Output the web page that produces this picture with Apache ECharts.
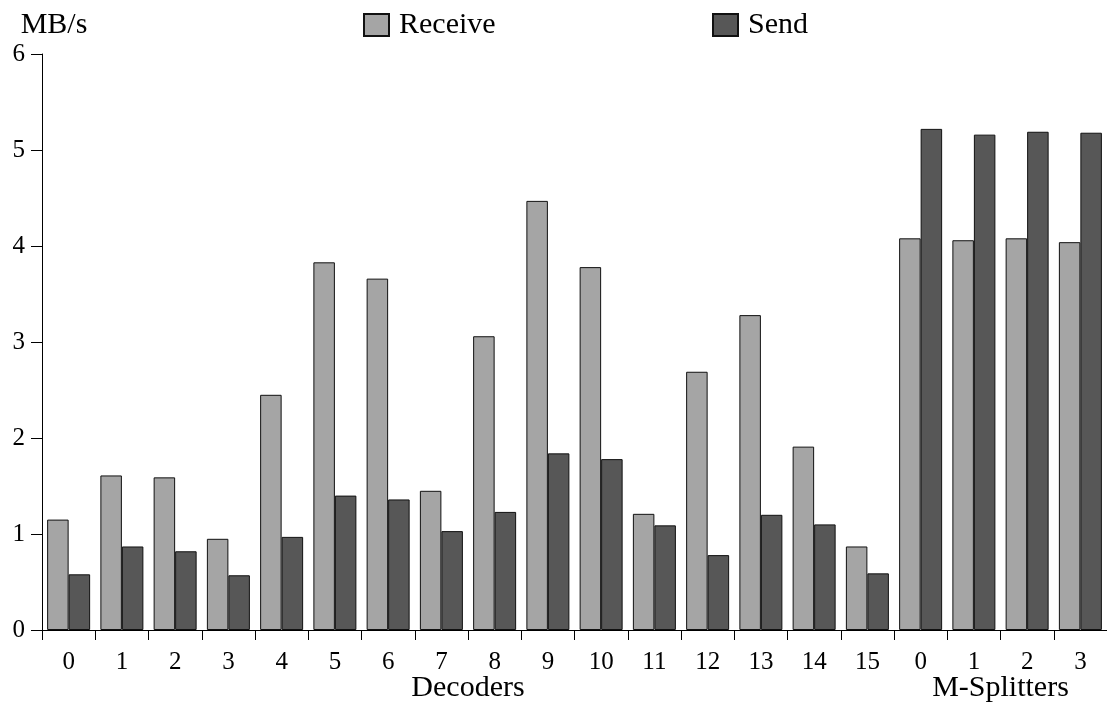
<!DOCTYPE html>
<html><head><meta charset="utf-8">
<script src="https://cdn.jsdelivr.net/npm/echarts@6/dist/echarts.min.js"></script>
<style>html,body{margin:0;padding:0;background:#fff}#c{width:1107px;height:702px}</style>
</head><body><div id="c"></div>
<script>
const categoryIds = ['D0','D1','D2','D3','D4','D5','D6','D7','D8','D9','D10','D11','D12','D13','D14','D15','M0','M1','M2','M3'];
const tickLabels = ['0','1','2','3','4','5','6','7','8','9','10','11','12','13','14','15','0','1','2','3'];
const receive = [1.15, 1.61, 1.59, 0.95, 2.45, 3.83, 3.66, 1.45, 3.06, 4.47, 3.78, 1.21, 2.69, 3.28, 1.91, 0.87, 4.08, 4.06, 4.08, 4.04];
const send = [0.58, 0.87, 0.82, 0.57, 0.97, 1.40, 1.36, 1.03, 1.23, 1.84, 1.78, 1.09, 0.78, 1.20, 1.10, 0.59, 5.22, 5.16, 5.19, 5.18];
const groupNames = ['Decoders', 'M-Splitters'];
const groupFirst = [0, 16];
const groupLast = [15, 19];
const yMin = 0, yMax = 6, yStep = 1;

const FONT = "'Liberation Serif', 'Times New Roman', serif";
const chart = echarts.init(document.getElementById('c'), null, {renderer: 'canvas'});
const legendText = {fontFamily: FONT, fontSize: 30, color: '#000', padding: [0, 0, 0, 5]};
const option = {
  animation: false,
  backgroundColor: '#fff',
  textStyle: {fontFamily: FONT, color: '#000'},
  grid: {left: 42, right: -2, top: 54, bottom: 72, containLabel: false},
  legend: [
    {data: ['Receive'], left: 363, top: 10, padding: 0, itemWidth: 25, itemHeight: 22, icon: 'rect', textStyle: legendText},
    {data: ['Send'], left: 712, top: 10, padding: 0, itemWidth: 25, itemHeight: 22, icon: 'rect', textStyle: legendText}
  ],
  xAxis: {
    type: 'category',
    data: categoryIds,
    axisLine: {lineStyle: {color: '#000', width: 1}},
    axisTick: {show: true, length: 10, lineStyle: {color: '#000', width: 1}},
    axisLabel: {margin: 20, fontFamily: FONT, fontSize: 25, color: '#000',
      formatter: (v, i) => tickLabels[i], interval: 0},
    splitLine: {show: false}
  },
  yAxis: {
    type: 'value', min: yMin, max: yMax, interval: yStep,
    name: 'MB/s', nameLocation: 'end', nameGap: 14,
    nameTextStyle: {fontFamily: FONT, fontSize: 30, color: '#000', align: 'center', padding: [0, 0, 0, 24]},
    axisLine: {show: true, lineStyle: {color: '#000', width: 1}},
    axisTick: {show: true, length: 11, lineStyle: {color: '#000', width: 1}},
    axisLabel: {margin: 17, fontFamily: FONT, fontSize: 25, color: '#000'},
    splitLine: {show: false}
  },
  series: [
    {name: 'Receive', type: 'bar', data: receive, barWidth: 21.5, barGap: '0%',
     itemStyle: {color: '#a5a5a5', borderColor: '#111', borderWidth: 1}},
    {name: 'Send', type: 'bar', data: send, barWidth: 21.5, barGap: '0%',
     itemStyle: {color: '#575757', borderColor: '#111', borderWidth: 1}}
  ]
};
chart.setOption(option);

const y0 = chart.convertToPixel({yAxisIndex: 0}, 0);
const graphics = groupNames.map((name, k) => {
  const xa = chart.convertToPixel({xAxisIndex: 0}, categoryIds[groupFirst[k]]);
  const xb = chart.convertToPixel({xAxisIndex: 0}, categoryIds[groupLast[k]]);
  return {
    type: 'text', x: (xa + xb) / 2, y: y0 + 58,
    style: {text: name, fontFamily: FONT, fontSize: 30, fill: '#000', align: 'center', verticalAlign: 'middle'}
  };
});
chart.setOption({graphic: graphics});
</script></body></html>
